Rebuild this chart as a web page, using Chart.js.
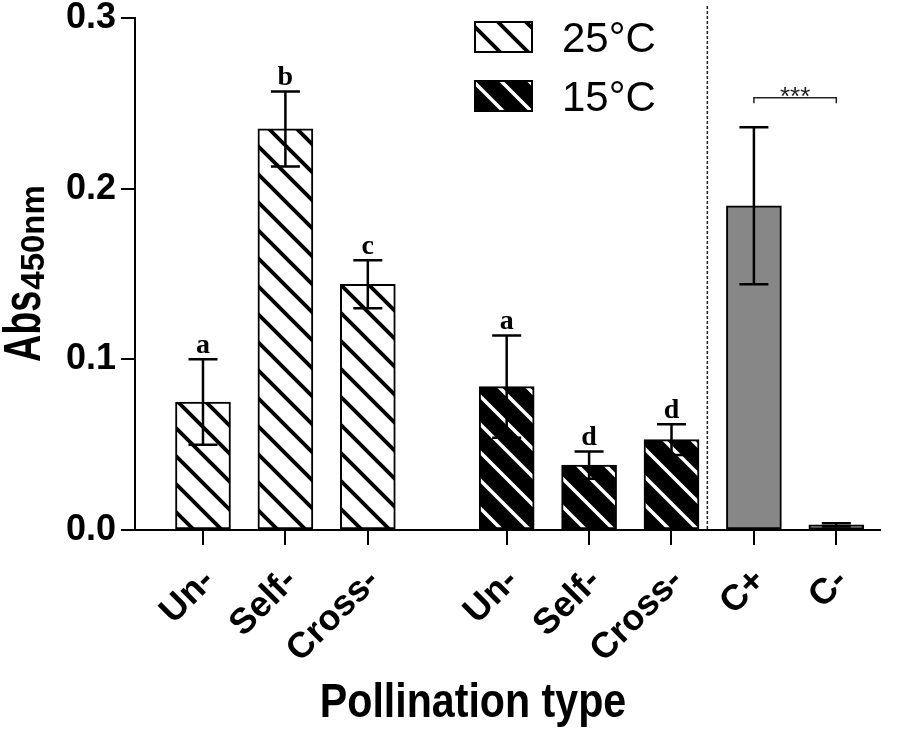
<!DOCTYPE html>
<html>
<head>
<meta charset="utf-8">
<script src="https://cdn.jsdelivr.net/npm/chart.js@4.4.1/dist/chart.umd.min.js"></script>
<style>
  html, body { margin: 0; padding: 0; background: #fff; }
  canvas { display: block; }
</style>
</head>
<body>
<canvas id="myChart" width="909" height="729"></canvas>
<script>
// values
const categories = ["Un-", "Self-", "Cross-", "Un-", "Self-", "Cross-", "C+", "C-"];
const groups = ["25°C", "25°C", "25°C", "15°C", "15°C", "15°C", "control", "control"];
const absValues = [0.075, 0.235, 0.144, 0.084, 0.038, 0.053, 0.190, 0.003];
const errValues = [0.025, 0.022, 0.014, 0.030, 0.008, 0.009, 0.046, 0.001];
const letters = ["a", "b", "c", "a", "d", "d", "", ""];
const yTicks = [0.0, 0.1, 0.2, 0.3];
const legendLabels = ["25°C", "15°C"];
const signif = "***";

// layout
const GROUP_GAP = 0.685;
const DIVIDER_AT = 6.12;
const FONT = "'Liberation Sans', Arial, sans-serif";
const SERIF = "'Liberation Serif', 'Times New Roman', serif";

const xPos = categories.map((c, i) => i + (groups[i] === "25°C" ? 0 : GROUP_GAP));

function makeStripes(bg, fg, width) {
  const d = 28;
  const c = document.createElement("canvas");
  c.width = d;
  c.height = d;
  const g = c.getContext("2d");
  g.fillStyle = bg;
  g.fillRect(0, 0, d, d);
  g.strokeStyle = fg;
  g.lineWidth = width;
  g.lineCap = "square";
  [[0, 0, d, d], [-d, 0, 0, d], [0, -d, d, 0]].forEach(([a, b, e, f]) => {
    g.beginPath();
    g.moveTo(a, b);
    g.lineTo(e, f);
    g.stroke();
  });
  return g.createPattern(c, "repeat");
}

const ctx = document.getElementById("myChart").getContext("2d");
const warm = makeStripes("#ffffff", "#000000", 3.8);
const cold = makeStripes("#000000", "#ffffff", 3.5);
const fills = groups.map(g => (g === "25°C" ? warm : g === "15°C" ? cold : "#878787"));

const extras = {
  id: "extras",
  afterDatasetsDraw(chart) {
    const c = chart.ctx;
    const xs = chart.scales.x;
    const ys = chart.scales.y;
    c.save();

    // dashed divider
    c.strokeStyle = "#222";
    c.lineWidth = 1.5;
    c.setLineDash([3, 2]);
    const dx = xs.getPixelForValue(DIVIDER_AT);
    c.beginPath();
    c.moveTo(dx, 6);
    c.lineTo(dx, chart.chartArea.bottom);
    c.stroke();
    c.setLineDash([]);

    // error bars + letters
    c.strokeStyle = "#000";
    c.lineWidth = 2.5;
    absValues.forEach((v, i) => {
      const x = xs.getPixelForValue(xPos[i]);
      const top = ys.getPixelForValue(v + errValues[i]);
      const bot = ys.getPixelForValue(v - errValues[i]);
      c.beginPath();
      c.moveTo(x, top);
      c.lineTo(x, bot);
      c.moveTo(x - 14.5, top);
      c.lineTo(x + 14.5, top);
      c.moveTo(x - 14.5, bot);
      c.lineTo(x + 14.5, bot);
      c.stroke();
      if (letters[i]) {
        c.fillStyle = "#000";
        c.font = "bold 28px " + SERIF;
        c.textAlign = "center";
        c.textBaseline = "alphabetic";
        c.fillText(letters[i], x, top - 6);
      }
    });

    // significance bracket between C+ and C-
    const x1 = xs.getPixelForValue(xPos[6]);
    const x2 = xs.getPixelForValue(xPos[7]);
    const by = ys.getPixelForValue(0.2533);
    const ly = ys.getPixelForValue(0.25);
    c.strokeStyle = "#222";
    c.lineWidth = 1.5;
    c.beginPath();
    c.moveTo(x1, ly);
    c.lineTo(x1, by);
    c.lineTo(x2, by);
    c.lineTo(x2, ly);
    c.stroke();
    c.fillStyle = "#222";
    c.font = "26px " + FONT;
    c.textAlign = "center";
    c.textBaseline = "alphabetic";
    c.fillText(signif, (x1 + x2) / 2, by + 7);

    // legend
    const boxes = [[475, 22], [475, 81]];
    [warm, cold].forEach((p, i) => {
      const [bx, by2] = boxes[i];
      c.fillStyle = p;
      c.fillRect(bx, by2, 57, 30);
      c.strokeStyle = "#000";
      c.lineWidth = 2;
      c.strokeRect(bx, by2, 57, 30);
      c.fillStyle = "#000";
      c.font = "42px " + FONT;
      c.textAlign = "left";
      c.textBaseline = "alphabetic";
      c.fillText(legendLabels[i], 562, by2 + 30);
    });

    // x title
    c.save();
    c.translate(473, 717);
    c.scale(0.84, 1);
    c.font = "bold 49px " + FONT;
    c.textAlign = "center";
    c.fillText("Pollination type", 0, 0);
    c.restore();

    // y title with subscript
    c.save();
    c.translate(40, 362);
    c.rotate(-Math.PI / 2);
    c.save();
    c.scale(0.74, 1);
    c.font = "bold 51px " + FONT;
    c.textAlign = "left";
    c.fillText("Abs", 0, 0);
    const w = c.measureText("Abs").width * 0.74;
    c.restore();
    c.font = "bold 33px " + FONT;
    c.textAlign = "left";
    c.fillText("450nm", w + 1, 4);
    c.restore();

    c.restore();
  }
};

const chart = new Chart(ctx, {
  type: "bar",
  data: {
    datasets: [
      {
        label: "Abs450nm",
        data: absValues.map((v, i) => ({ x: xPos[i], y: v })),
        backgroundColor: fills,
        borderColor: "#000",
        borderWidth: 2,
        borderSkipped: false,
        barThickness: 55,
      },
    ],
  },
  options: {
    responsive: false,
    animation: false,
    devicePixelRatio: 1,
    layout: { padding: { top: 18, right: 29, left: 0, bottom: 0 } },
    plugins: {
      legend: { display: false },
      tooltip: { enabled: false },
    },
    scales: {
      x: {
        type: "linear",
        min: -0.825,
        max: 8.215,
        offset: false,
        afterBuildTicks: s => { s.ticks = xPos.map(v => ({ value: v })); },
        afterFit: s => { s.height = 199; s.paddingLeft = 0; s.paddingRight = 0; },
        ticks: {
          autoSkip: false,
          minRotation: 45,
          maxRotation: 45,
          color: "#000",
          padding: 15,
          labelOffset: 6,
          font: { family: FONT, size: 36, weight: "bold" },
          callback: (v, i) => categories[i],
        },
        grid: { drawOnChartArea: false, offset: false, color: "#000", lineWidth: 2, tickLength: 15 },
        border: { color: "#000", width: 2 },
      },
      y: {
        min: 0,
        max: 0.3,
        afterBuildTicks: s => { s.ticks = yTicks.map(v => ({ value: v })); },
        afterFit: s => { s.width = 135; s.paddingTop = 0; s.paddingBottom = 0; },
        ticks: {
          color: "#000",
          padding: 5,
          font: { family: FONT, size: 36, weight: "bold" },
          callback: v => v.toFixed(1),
        },
        grid: { drawOnChartArea: false, color: "#000", lineWidth: 2, tickLength: 14 },
        border: { color: "#000", width: 2 },
      },
    },
  },
  plugins: [extras],
});
</script>
</body>
</html>
